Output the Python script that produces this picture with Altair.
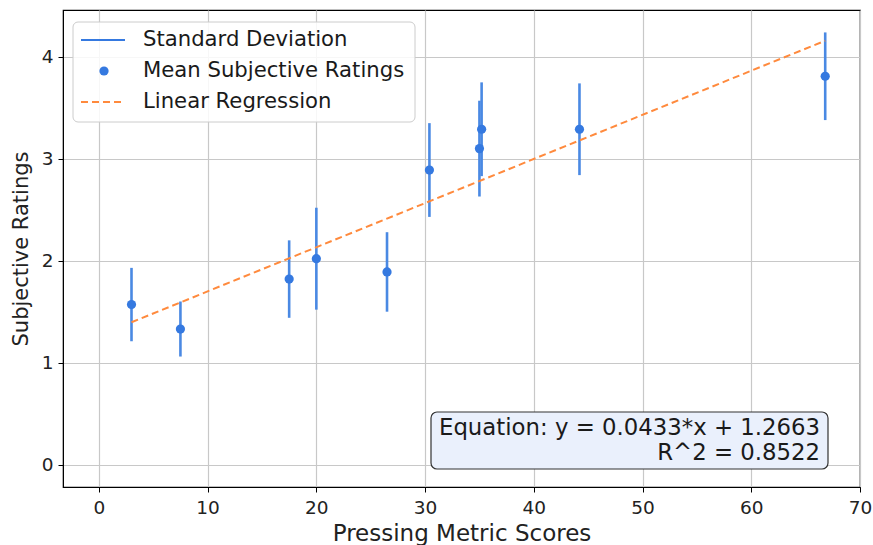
import altair as alt
import pandas as pd

# Pressing metric scores and mean subjective ratings with their standard deviations
scores = [3.0, 7.5, 17.5, 20.0, 26.5, 30.4, 35.0, 35.2, 44.2, 66.8]
mean_ratings = [1.57, 1.33, 1.82, 2.02, 1.89, 2.89, 3.10, 3.29, 3.29, 3.81]
std_ratings = [0.36, 0.27, 0.38, 0.50, 0.39, 0.46, 0.47, 0.46, 0.45, 0.43]

# Fitted regression
slope = 0.0433
intercept = 1.2663
r_squared = 0.8522

legend_labels = ["Standard Deviation", "Mean Subjective Ratings", "Linear Regression"]

BLUE_PT = "#3579e0"
BLUE_BAR = "#4a89e3"
ORANGE = "#ff8a3d"
FONT = "DejaVu Sans"

W, H = 797, 477
X_DOM = [-3.3, 70]
Y_DOM = [-0.22, 4.46]

df = pd.DataFrame({"x": scores, "y": mean_ratings, "sd": std_ratings})
df["lo"] = df["y"] - df["sd"]
df["hi"] = df["y"] + df["sd"]

x_min, x_max = min(scores), max(scores)
fit = pd.DataFrame({
    "x": [x_min, x_max],
    "y": [slope * x_min + intercept, slope * x_max + intercept],
})

xs = alt.Scale(domain=X_DOM, nice=False, zero=False)
ys = alt.Scale(domain=Y_DOM, nice=False, zero=False)

common = dict(grid=True, gridColor="#c8c8c8", gridWidth=1.2,
              domainColor="black", tickColor="black", tickSize=5,
              labelFontSize=18.5, labelColor="#222", labelFont=FONT,
              titleFont=FONT, titleFontWeight="normal",
              titleColor="#222", format="d", labelFlush=False, labelOverlap=False)

x_axis = alt.Axis(values=list(range(0, 71, 10)), title="Pressing Metric Scores",
                  titleFontSize=23, titlePadding=6, labelPadding=6, **common)
y_axis = alt.Axis(values=[0, 1, 2, 3, 4], title="Subjective Ratings",
                  titleFontSize=21, titlePadding=10, labelPadding=5, **common)

bars = alt.Chart(df).mark_rule(color=BLUE_BAR, strokeWidth=2.6).encode(
    x=alt.X("x:Q", scale=xs, axis=x_axis),
    y=alt.Y("lo:Q", scale=ys, axis=y_axis),
    y2="hi:Q",
)

points = alt.Chart(df).mark_circle(color=BLUE_PT, size=85, opacity=1).encode(
    x=alt.X("x:Q", scale=xs),
    y=alt.Y("y:Q", scale=ys),
)

line = alt.Chart(fit).mark_line(color=ORANGE, strokeWidth=2, strokeDash=[7, 4]).encode(
    x=alt.X("x:Q", scale=xs),
    y=alt.Y("y:Q", scale=ys),
)

# Legend panel
one = pd.DataFrame({"k": [0]})
leg_box = alt.Chart(one).mark_rect(fill="white", fillOpacity=0.85, stroke="#cccccc",
                                   strokeWidth=1, cornerRadius=5).encode(
    x=alt.value(10), x2=alt.value(352), y=alt.value(12), y2=alt.value(112))
leg_sd = alt.Chart(one).mark_rule(color=BLUE_PT, strokeWidth=2).encode(
    x=alt.value(18), x2=alt.value(62), y=alt.value(30), y2=alt.value(30))
leg_pt = alt.Chart(one).mark_circle(color=BLUE_PT, size=85, opacity=1).encode(
    x=alt.value(41), y=alt.value(61))
leg_fit = alt.Chart(one).mark_rule(color=ORANGE, strokeWidth=2, strokeDash=[7, 4]).encode(
    x=alt.value(18), x2=alt.value(62), y=alt.value(92), y2=alt.value(92))
leg_df = pd.DataFrame({"label": legend_labels, "row": [30, 61, 92]})
leg_text = alt.Chart(leg_df).mark_text(align="left", baseline="middle", fontSize=21.2,
                                       font=FONT, color="#1a1a1a").encode(
    x=alt.value(80), y=alt.Y("row:Q", scale=None), text="label:N")

# Equation annotation
eq_df = pd.DataFrame({
    "txt": [f"Equation: y = {slope:.4f}*x + {intercept:.4f}", f"R^2 = {r_squared:.4f}"],
    "row": [418, 443],
})
eq_box = alt.Chart(one).mark_rect(fill="#eaf0fc", stroke="#333333", strokeWidth=1.2,
                                  cornerRadius=6).encode(
    x=alt.value(368), x2=alt.value(765), y=alt.value(402), y2=alt.value(459))
eq_text = alt.Chart(eq_df).mark_text(align="right", baseline="middle", fontSize=22.8,
                                     font=FONT, color="#1a1a1a").encode(
    x=alt.value(757), y=alt.Y("row:Q", scale=None), text="txt:N")

chart = alt.layer(
    bars, line, points, leg_box, leg_sd, leg_pt, leg_fit, leg_text, eq_box, eq_text
).properties(
    width=W, height=H,
    autosize=alt.AutoSizeParams(type="none"),
    padding={"left": 63, "top": 10, "right": 13, "bottom": 58},
    background="white",
).configure_view(stroke="black", strokeWidth=1.2)

chart.save("out.html", embed_options={"renderer": "svg", "actions": False})
